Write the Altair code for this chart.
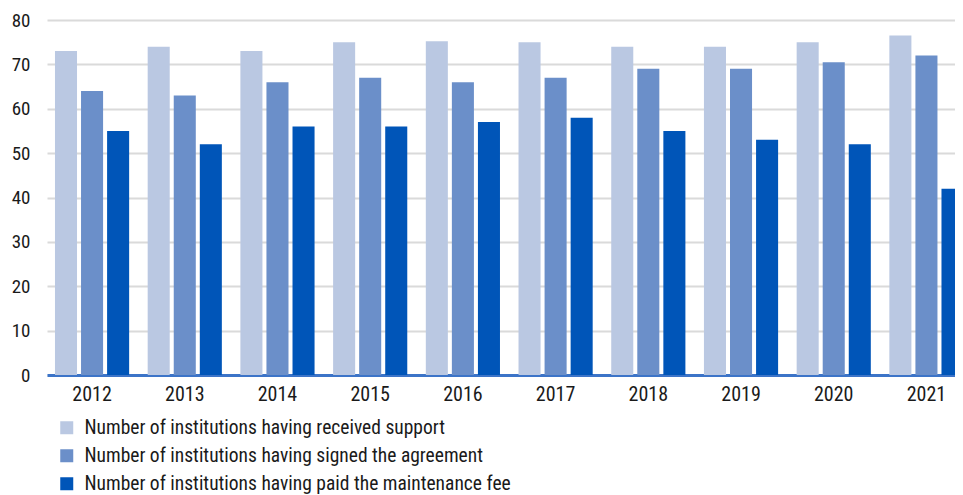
import altair as alt
import pandas as pd

years = ["2012", "2013", "2014", "2015", "2016", "2017", "2018", "2019", "2020", "2021"]
received = [73, 74, 73, 75, 75.2, 75, 74, 74, 75, 76.5]
signed = [64, 63, 66, 67, 66, 67, 69, 69, 70.5, 72]
paid = [55, 52, 56, 56, 57, 58, 55, 53, 52, 42]

series = [
    "Number of institutions having received support",
    "Number of institutions having signed the agreement",
    "Number of institutions having paid the maintenance fee",
]
colors = ["#BAC8E2", "#6B8FC9", "#0055B8"]

rows = []
for i, y in enumerate(years):
    for s, vals in zip(series, [received, signed, paid]):
        rows.append({"year": y, "series": s, "value": vals[i]})
df = pd.DataFrame(rows)

FONT = "Roboto Condensed, DejaVu Sans Condensed, Roboto, sans-serif"

chart = alt.Chart(df).mark_bar().encode(
    x=alt.X("year:N", sort=years,
            scale=alt.Scale(paddingInner=0.2, paddingOuter=0.086, range=[0, 924.5]),
            axis=alt.Axis(title=None, labelAngle=0, ticks=False, domain=True,
                          domainColor="#3C74C8", domainWidth=3,
                          labelFontSize=20, labelPadding=9, labelColor="#1a1a1a",
                          labelFont=FONT)),
    xOffset=alt.XOffset("series:N", sort=series,
                        scale=alt.Scale(paddingInner=0.154, paddingOuter=0)),
    y=alt.Y("value:Q", scale=alt.Scale(domain=[0, 80]),
            axis=alt.Axis(title=None, values=[0, 10, 20, 30, 40, 50, 60, 70, 80],
                          ticks=False, domain=False, gridColor="#DADADA", gridWidth=2,
                          labelFontSize=19, labelPadding=17, labelColor="#1a1a1a",
                          labelFont=FONT)),
    color=alt.Color("series:N", sort=series,
                    scale=alt.Scale(domain=series, range=colors),
                    legend=alt.Legend(title=None, orient="none", legendX=10, legendY=398,
                                      direction="vertical", symbolType="square",
                                      symbolSize=169, symbolStrokeWidth=0,
                                      labelFontSize=19.5, labelFont=FONT,
                                      labelColor="#1a1a1a", labelOffset=8,
                                      rowPadding=7, padding=0, labelLimit=0)),
).properties(
    width=908, height=355,
    autosize=alt.AutoSizeParams(type="none"),
    padding={"left": 39, "top": 12, "right": 0, "bottom": 122},
).configure_view(stroke=None)

chart.save("out.html", embed_options={"renderer": "svg", "actions": False})
